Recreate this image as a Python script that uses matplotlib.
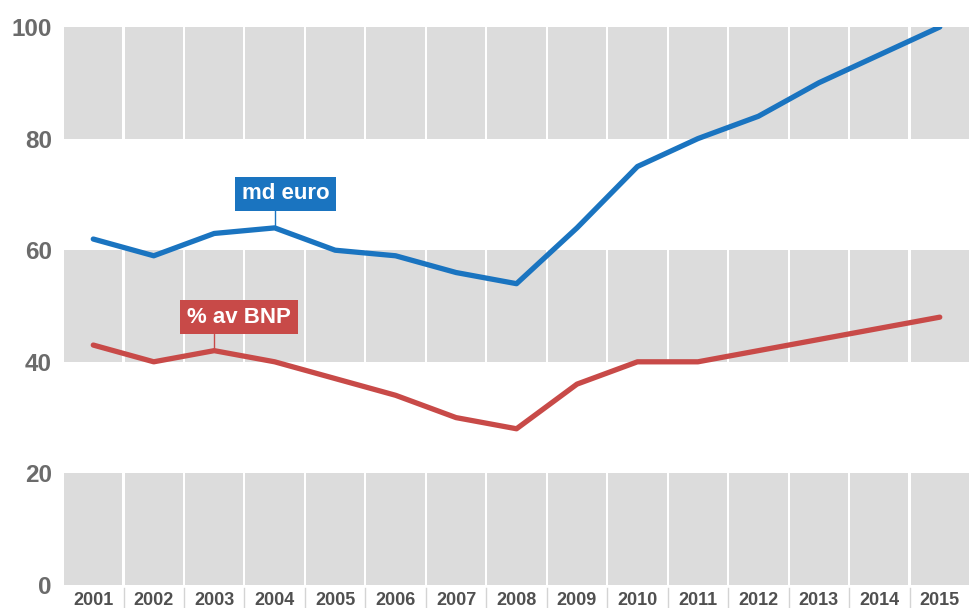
import matplotlib.pyplot as plt
import matplotlib.transforms as mtransforms

years = list(range(2001, 2016))
md_euro = [62, 59, 63, 64, 60, 59, 56, 54, 64, 75, 80, 84, 90, 95, 100]
pct_bnp = [43, 40, 42, 40, 37, 34, 30, 28, 36, 40, 40, 42, 44, 46, 48]
y_ticks = [0, 20, 40, 60, 80, 100]
gray_bands = [0, 40, 80]

blue = '#1a74c0'
red = '#c84a48'
band_gray = '#dcdcdc'

plt.rcParams['font.family'] = ['Liberation Sans', 'DejaVu Sans']

fig = plt.figure(figsize=(9.7, 6.08), dpi=100)
ax = fig.add_axes([0.065, 0.0378, 0.935, 0.9178])

# gray bands split into one block per year
for b in gray_bands:
    ax.bar(years, 20, bottom=b, width=0.965, color=band_gray, zorder=1)

ax.plot(years, md_euro, color=blue, lw=3.8, solid_capstyle='round',
        solid_joinstyle='round', zorder=3)
ax.plot(years, pct_bnp, color=red, lw=3.8, solid_capstyle='round',
        solid_joinstyle='round', zorder=3)

ax.set_xlim(2000.5, 2015.5)
ax.set_ylim(0, 100)
for s in ax.spines.values():
    s.set_visible(False)

ax.set_yticks(y_ticks)
ax.set_yticklabels([str(t) for t in y_ticks], fontsize=17.5, fontweight='bold',
                   color='#6b6b6b')
ax.set_xticks(years)
ax.set_xticklabels([str(y) for y in years], fontsize=13, fontweight='bold',
                   color='#505050')
ax.tick_params(axis='both', length=0)
ax.tick_params(axis='y', pad=8)
ax.tick_params(axis='x', pad=5)

# separators between year labels
trans = mtransforms.blended_transform_factory(ax.transData, ax.transAxes)
for y in years[:-1]:
    ax.plot([y + 0.5, y + 0.5], [-0.006, -0.045], color='#d4d4d4', lw=1,
            transform=trans, clip_on=False)

# series labels with connector lines
i04 = years.index(2004)
ax.plot([2004, 2004], [md_euro[i04], 68], color=blue, lw=1, zorder=2)
ax.text(2004.18, 70.1, 'md euro', color='white', fontsize=16, fontweight='bold',
        ha='center', va='center', zorder=4,
        bbox=dict(boxstyle='square,pad=0.3', fc=blue, ec='none'))

i03 = years.index(2003)
ax.plot([2003, 2003], [pct_bnp[i03], 46], color=red, lw=1, zorder=2)
ax.text(2003.41, 48.0, '% av BNP', color='white', fontsize=16, fontweight='bold',
        ha='center', va='center', zorder=4,
        bbox=dict(boxstyle='square,pad=0.3', fc=red, ec='none'))

fig.savefig('out.png', dpi=100)
